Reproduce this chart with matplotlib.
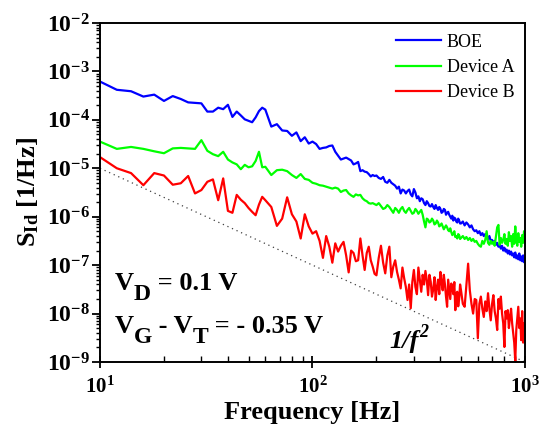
import numpy as np
import matplotlib
matplotlib.use('Agg')
import matplotlib.pyplot as plt
from matplotlib.ticker import LogLocator, NullFormatter
from matplotlib.transforms import offset_copy

plt.rcParams['font.family'] = 'Liberation Serif'
plt.rcParams['font.weight'] = 'bold'
plt.rcParams['axes.unicode_minus'] = False
plt.rcParams['mathtext.fontset'] = 'custom'
plt.rcParams['mathtext.rm'] = 'Liberation Serif:bold'
plt.rcParams['mathtext.bf'] = 'Liberation Serif:bold'
plt.rcParams['mathtext.it'] = 'Liberation Serif:italic:bold'
plt.rcParams['mathtext.default'] = 'bf'

# frequency grid [Hz]
freq = (list(range(10, 60, 2)) + list(range(60, 200, 4)) +
        list(range(200, 500, 5)) + list(range(500, 1001, 10)))

# log10 of S_Id [1/Hz]
boe_log = [
    # 10 - 58 Hz
    -3.21, -3.38, -3.41, -3.52, -3.48, -3.61, -3.51, -3.57, -3.64, -3.65,
    -3.66, -3.83, -3.83, -3.75, -3.78, -3.69, -3.94, -3.83, -3.91, -3.99,
    -4.02, -4.05, -3.95, -3.82, -3.75,
    # 60 - 196 Hz
    -3.79, -4.14, -4.09, -4.22, -4.23, -4.33, -4.26, -4.44, -4.36, -4.49,
    -4.45, -4.50, -4.60, -4.58, -4.57, -4.54, -4.53, -4.66, -4.74, -4.82,
    -4.80, -4.78, -4.81, -4.84, -4.92, -4.90, -4.87, -5.06, -5.04, -5.07,
    -5.08, -5.12, -5.17, -5.14, -5.16,
    # 200 - 495 Hz
    -5.15, -5.20, -5.22, -5.18, -5.28, -5.30, -5.24, -5.30, -5.33, -5.36,
    -5.42, -5.38, -5.52, -5.44, -5.46, -5.52, -5.47, -5.44, -5.54, -5.58,
    -5.43, -5.50, -5.62, -5.58, -5.68, -5.62, -5.64, -5.72, -5.76, -5.68,
    -5.72, -5.78, -5.79, -5.74, -5.80, -5.84, -5.76, -5.82, -5.86, -5.80,
    -5.84, -5.92, -5.90, -5.84, -5.86, -5.96, -5.92, -5.90, -5.96, -6.00,
    -6.04, -5.98, -6.08, -6.02, -6.04, -6.10, -6.12, -6.04, -6.08, -6.14,
    # 500 - 1000 Hz
    -6.14, -6.10, -6.18, -6.12, -6.16, -6.22, -6.18, -6.26, -6.30, -6.28,
    -6.34, -6.30, -6.38, -6.34, -6.40, -6.36, -6.42, -6.46, -6.40, -6.50,
    -6.48, -6.54, -6.50, -6.58, -6.54, -6.62, -6.58, -6.66, -6.60, -6.70,
    -6.64, -6.72, -6.68, -6.76, -6.70, -6.78, -6.72, -6.80, -6.76, -6.84,
    -6.74, -6.86, -6.80, -6.88, -6.76, -6.90, -6.82, -6.92, -6.80, -6.94,
    -6.86,
]

dev_a_log = [
    -4.45, -4.60, -4.56, -4.60, -4.65, -4.69, -4.59, -4.58, -4.59, -4.60,
    -4.42, -4.64, -4.71, -4.75, -4.66, -4.82, -4.88, -4.92, -5.02, -4.93,
    -4.98, -4.96, -4.85, -4.66, -4.98,
    -4.97, -5.14, -5.04, -5.03, -5.06, -5.14, -5.20, -5.12, -5.22, -5.24,
    -5.30, -5.32, -5.35, -5.36, -5.38, -5.40, -5.42, -5.40, -5.42, -5.49,
    -5.46, -5.45, -5.52, -5.56, -5.59, -5.54, -5.56, -5.55, -5.62, -5.66,
    -5.68, -5.72, -5.73, -5.72, -5.74,
    -5.76, -5.72, -5.78, -5.84, -5.82, -5.76, -5.80, -5.86, -5.92, -5.82,
    -5.86, -5.92, -5.84, -5.80, -5.88, -5.92, -5.86, -5.82, -5.88, -5.94,
    -5.92, -5.84, -5.88, -5.94, -5.90, -5.86, -5.96, -6.10, -6.22, -6.04,
    -6.06, -6.12, -6.10, -6.04, -6.08, -6.16, -6.14, -6.08, -6.12, -6.20,
    -6.18, -6.14, -6.20, -6.26, -6.22, -6.18, -6.22, -6.28, -6.30, -6.24,
    -6.32, -6.38, -6.36, -6.30, -6.42, -6.40, -6.45, -6.36, -6.38, -6.46,
    -6.44, -6.40, -6.46, -6.42, -6.48, -6.44, -6.50, -6.46, -6.52, -6.50,
    -6.56, -6.60, -6.62, -6.50, -6.56, -6.48, -6.30, -6.54, -6.58, -6.50,
    -6.56, -6.52, -6.60, -6.40, -6.22, -6.17, -6.58, -6.44, -6.54, -6.48,
    -6.36, -6.56, -6.46, -6.60, -6.32, -6.50, -6.40, -6.62, -6.36, -6.56,
    -6.20, -6.48, -6.60, -6.34, -6.52, -6.44, -6.62, -6.38, -6.54, -6.30,
    -6.50,
]

dev_b_log = [
    -4.77, -5.00, -5.10, -5.35, -5.10, -5.15, -5.34, -5.31, -5.16, -5.52,
    -5.45, -5.28, -5.23, -5.66, -5.21, -5.88, -5.92, -5.55, -5.65, -5.72,
    -5.82, -5.90, -5.97, -5.75, -5.59,
    -5.66, -5.80, -6.19, -6.04, -5.60, -5.95, -6.10, -6.45, -5.95, -6.20,
    -6.35, -6.30, -6.50, -6.85, -6.40, -6.62, -6.95, -6.55, -6.72, -6.60,
    -6.52, -6.80, -7.15, -6.70, -6.75, -6.92, -6.90, -6.45, -6.80, -7.10,
    -6.75, -6.62, -6.90, -7.03, -7.18,
    -7.21, -6.85, -6.60, -6.95, -7.17, -6.80, -6.62, -7.25, -7.03, -6.90,
    -7.14, -7.30, -7.48, -7.05, -7.27, -7.45, -7.72, -7.40, -7.89, -7.35,
    -7.10, -7.45, -7.60, -7.05, -7.31, -7.55, -7.20, -7.40, -7.12, -7.30,
    -7.62, -7.20, -7.34, -7.65, -7.50, -7.25, -7.72, -7.45, -7.30, -7.60,
    -7.14, -7.35, -7.52, -7.20, -7.40, -7.65, -7.86, -7.30, -7.50, -7.70,
    -7.38, -7.45, -7.60, -7.35, -7.93, -7.60, -7.55, -7.85, -7.70, -7.40,
    -7.52, -7.80, -7.86, -7.40, -6.97, -7.52, -7.80, -8.00, -7.70, -7.72,
    -8.51, -7.80, -7.65, -7.90, -8.07, -7.75, -7.95, -7.58, -7.90, -8.14,
    -7.80, -7.62, -7.95, -8.10, -8.34, -7.70, -7.90, -7.65, -8.00, -8.20,
    -8.69, -7.95, -8.10, -7.93, -8.30, -8.07, -7.90, -8.20, -8.40, -8.60,
    -8.98, -8.34, -8.10, -7.86, -8.30, -8.10, -8.55, -7.95, -8.60, -8.20,
    -8.40,
]

# 1/f^2 guide line end points
guide_f = [10, 1000]
guide_s = [1e-5, 1e-9]

fig = plt.figure(figsize=(5.39, 4.33), dpi=100)
ax = fig.add_axes([0.1855, 0.164, 0.7885, 0.783])

ax.plot(guide_f, guide_s, color='0.25', ls=(0, (1, 3)), lw=0.9)
ax.plot(freq, np.power(10.0, boe_log), color='#0000ff', lw=1.6, label='BOE')
ax.plot(freq, np.power(10.0, dev_a_log), color='#00ff00', lw=1.6, label='Device A')
ax.plot(freq, np.power(10.0, dev_b_log), color='#ff0000', lw=1.6, label='Device B')

ax.set_xscale('log')
ax.set_yscale('log')
ax.set_xlim(10, 1000)
ax.set_ylim(1e-9, 1e-2)

ax.yaxis.set_major_locator(LogLocator(base=10, numticks=20))
ax.yaxis.set_minor_locator(LogLocator(base=10, subs=np.arange(2, 10), numticks=20))
ax.yaxis.set_minor_formatter(NullFormatter())
ax.xaxis.set_minor_formatter(NullFormatter())

for sp in ax.spines.values():
    sp.set_linewidth(1.4)
ax.tick_params(axis='y', which='major', direction='out', length=6, width=1.3, labelsize=17, pad=1)
ax.tick_params(axis='y', which='minor', direction='out', length=3, width=1.0)
ax.tick_params(axis='x', which='major', direction='inout', length=9, width=1.3, labelsize=15, pad=6)
ax.tick_params(axis='x', which='minor', direction='in', length=4, width=1.0)

ax.set_xlabel('Frequency [Hz]', fontsize=19, fontweight='bold', labelpad=2)
ax.set_ylabel(r'$S_{Id}$ [1/Hz]', fontsize=19, fontweight='bold', labelpad=4)

ax.legend(loc='upper right', bbox_to_anchor=(1.0, 1.0), frameon=False,
          prop={'size': 13, 'weight': 'normal'},
          handlelength=2.5, handletextpad=0.3, labelspacing=0.45, borderaxespad=0.2)


def piece_text(x, y, pieces, style='normal'):
    renderer = fig.canvas.get_renderer()
    trans = ax.transAxes
    for s, size, dy in pieces:
        t = ax.text(x, y, s, fontsize=size, fontweight='bold', style=style, va='baseline',
                    transform=offset_copy(trans, fig=fig, y=dy, units='points'))
        w = t.get_window_extent(renderer).width
        trans = offset_copy(trans, fig=fig, x=w, units='dots')


piece_text(0.035, 0.212, [('V', 19, 0), ('D', 17, -7), (' = 0.1 V', 19, 0)])
piece_text(0.035, 0.086, [('V', 19, 0), ('G', 17, -7), (' - V', 19, 0), ('T', 17, -7),
                          (' = - 0.35 V', 19, 0)])
piece_text(0.682, 0.041, [('1/f', 19, 0), ('2', 13, 8)], style='italic')

fig.savefig('out.png', dpi=100)
